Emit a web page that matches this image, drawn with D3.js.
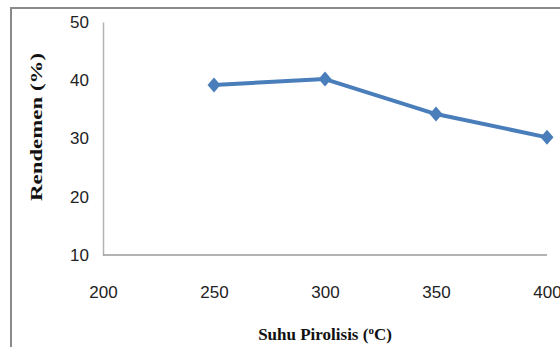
<!DOCTYPE html>
<html>
<head>
<meta charset="utf-8">
<script src="https://cdn.jsdelivr.net/npm/d3@7"></script>
<style>
  body { margin: 0; background: #fff; }
  svg { display: block; }
  .tick text { font-family: "Liberation Sans", "Open Sans", sans-serif; font-size: 17px; fill: #222; }
  .ttl { font-family: "Liberation Serif", "DejaVu Serif", serif; font-weight: bold; font-size: 17px; fill: #111; }
</style>
</head>
<body>
<div id="chart"></div>
<script>
const suhu = [250, 300, 350, 400];
const rendemen = [39.2, 40.2, 34.2, 30.2];
const xTicks = [200, 250, 300, 350, 400];
const yTicks = [10, 20, 30, 40, 50];

const width = 560;
const height = 347;
const margin = { left: 103, right: 13, top: 22, bottom: 92 };

const svg = d3.select('#chart').append('svg')
  .attr('width', width)
  .attr('height', height);

// outer frame (left + top edges visible)
svg.append('path')
  .attr('d', `M11,${height}V8H${width}`)
  .attr('fill', 'none')
  .attr('stroke', '#8a8a8a')
  .attr('stroke-width', 2);

const x = d3.scaleLinear().domain([200, 400]).range([margin.left, width - margin.right]);
const y = d3.scaleLinear().domain([10, 50]).range([height - margin.bottom, margin.top]);

// y axis
const yAxis = svg.append('g')
  .attr('transform', `translate(${margin.left},0)`)
  .call(d3.axisLeft(y).tickValues(yTicks).tickSize(0).tickPadding(14));
yAxis.select('.domain').attr('stroke', '#b3b3b3').attr('stroke-width', 1.5);

// x axis line at bottom of plot
svg.append('line')
  .attr('x1', margin.left).attr('x2', x(400))
  .attr('y1', y(10)).attr('y2', y(10))
  .attr('stroke', '#9a9a9a').attr('stroke-width', 1.5);

// x tick labels sit low, as in the original
const xAxis = svg.append('g')
  .attr('transform', `translate(0,${y(10) + 31})`)
  .call(d3.axisBottom(x).tickValues(xTicks).tickSize(0).tickPadding(0));
xAxis.select('.domain').remove();

const pts = suhu.map((s, i) => [s, rendemen[i]]);

svg.append('path')
  .datum(pts)
  .attr('fill', 'none')
  .attr('stroke', '#4a7ebb')
  .attr('stroke-width', 4)
  .attr('stroke-linejoin', 'round')
  .attr('d', d3.line().x(d => x(d[0])).y(d => y(d[1])));

svg.selectAll('path.mark')
  .data(pts)
  .enter().append('path')
  .attr('class', 'mark')
  .attr('transform', d => `translate(${x(d[0])},${y(d[1])})`)
  .attr('d', 'M0,-7.5L6.5,0L0,7.5L-6.5,0Z')
  .attr('fill', '#4a7ebb');

// axis titles (y title is stretched along its length in the original)
svg.append('text')
  .attr('class', 'ttl')
  .attr('transform', `translate(42,127) rotate(-90)`)
  .attr('text-anchor', 'middle')
  .attr('textLength', 148)
  .attr('lengthAdjust', 'spacingAndGlyphs')
  .text('Rendemen (%)');

const xt = svg.append('text')
  .attr('class', 'ttl')
  .attr('x', 325)
  .attr('y', 340)
  .attr('text-anchor', 'middle');
xt.append('tspan').text('Suhu Pirolisis (');
xt.append('tspan').attr('font-size', 11).attr('dy', -6).text('o');
xt.append('tspan').attr('dy', 6).text('C)');
</script>
</body>
</html>
